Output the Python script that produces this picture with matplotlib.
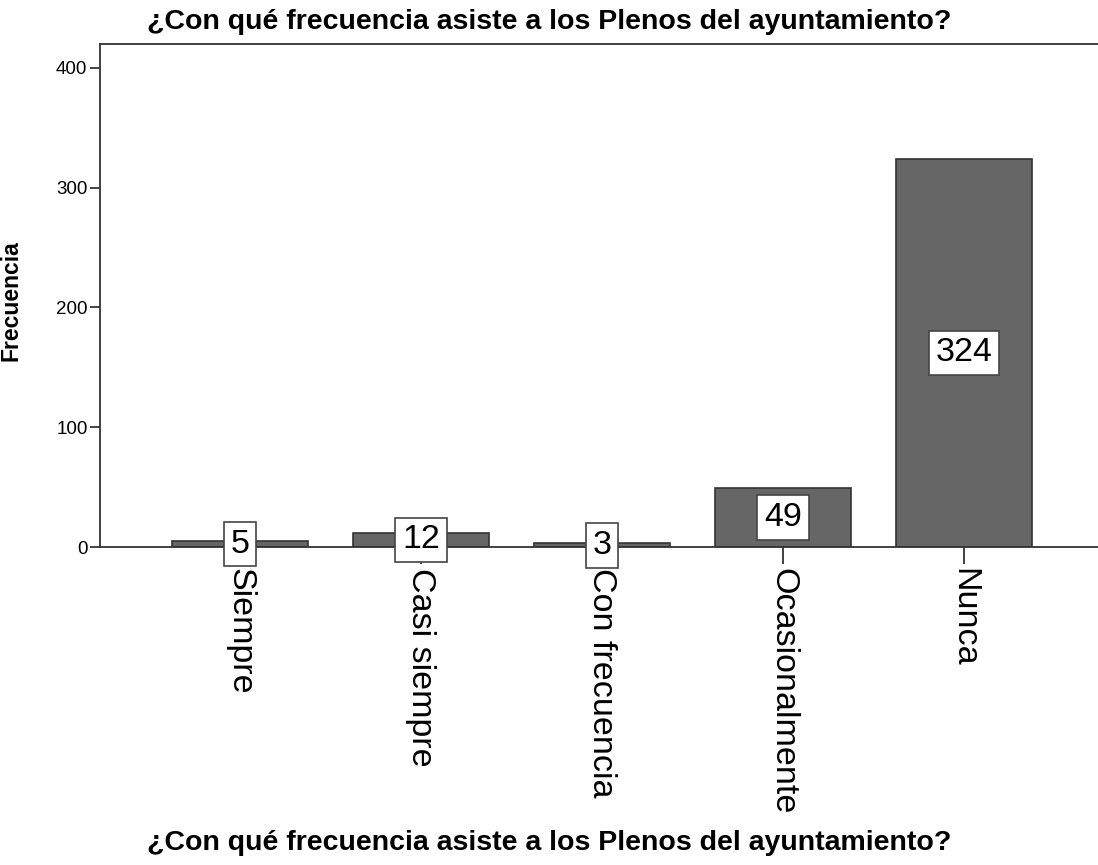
import matplotlib
matplotlib.use("Agg")
import matplotlib.pyplot as plt

plt.rcParams['font.family'] = ['Liberation Sans', 'DejaVu Sans']

categories = ["Siempre", "Casi siempre", "Con frecuencia", "Ocasionalmente", "Nunca"]
counts = [5, 12, 3, 49, 324]
yticks = [0, 100, 200, 300, 400]

TITLE = "¿Con qué frecuencia asiste a los Plenos del ayuntamiento?"
BAR_COLOR = "#666666"
EDGE_COLOR = "#333333"

fig = plt.figure(figsize=(10.98, 8.65), dpi=100)
ax = fig.add_axes([100 / 1098, 1 - 547 / 865, 1 - 100 / 1098, (547 - 44) / 865])

xpos = list(range(len(categories)))
ax.bar(xpos, counts, width=0.75, color=BAR_COLOR, edgecolor=EDGE_COLOR, linewidth=1.2, zorder=2)

# value labels in white boxes at half bar height
for x, v in zip(xpos, counts):
    ax.text(x, v / 2, str(v), ha='center', va='center', fontsize=24.5, color='black', zorder=4,
            bbox=dict(boxstyle='square,pad=0.2', facecolor='white', edgecolor='#444444', linewidth=1.2))

ax.set_xlim(-0.773, 4.74)
ax.set_ylim(0, 420)
ax.set_yticks(yticks)
ax.set_yticklabels([str(t) for t in yticks], fontsize=13.5)
ax.set_xticks(xpos)
ax.set_xticklabels(categories, rotation=270, fontsize=24.5, va='top', ha='center')

ax.spines['right'].set_visible(False)
for side in ['left', 'top', 'bottom']:
    ax.spines[side].set_color('#333333')
    ax.spines[side].set_linewidth(1.3)
ax.tick_params(axis='both', direction='out', length=7, width=1.3, color='#333333', pad=2)
ax.tick_params(axis='x', length=12, pad=3)

ax.set_ylabel("Frecuencia", fontsize=16.5, fontweight='bold')
ax.yaxis.set_label_coords(-0.078, 0.49)
fig.text(0.5, 1 - 22 / 865, TITLE, ha='center', va='center', fontsize=20.5, fontweight='bold')
fig.text(0.5, 1 - 843 / 865, TITLE, ha='center', va='center', fontsize=20.5, fontweight='bold')

fig.savefig("out.png", dpi=100)
